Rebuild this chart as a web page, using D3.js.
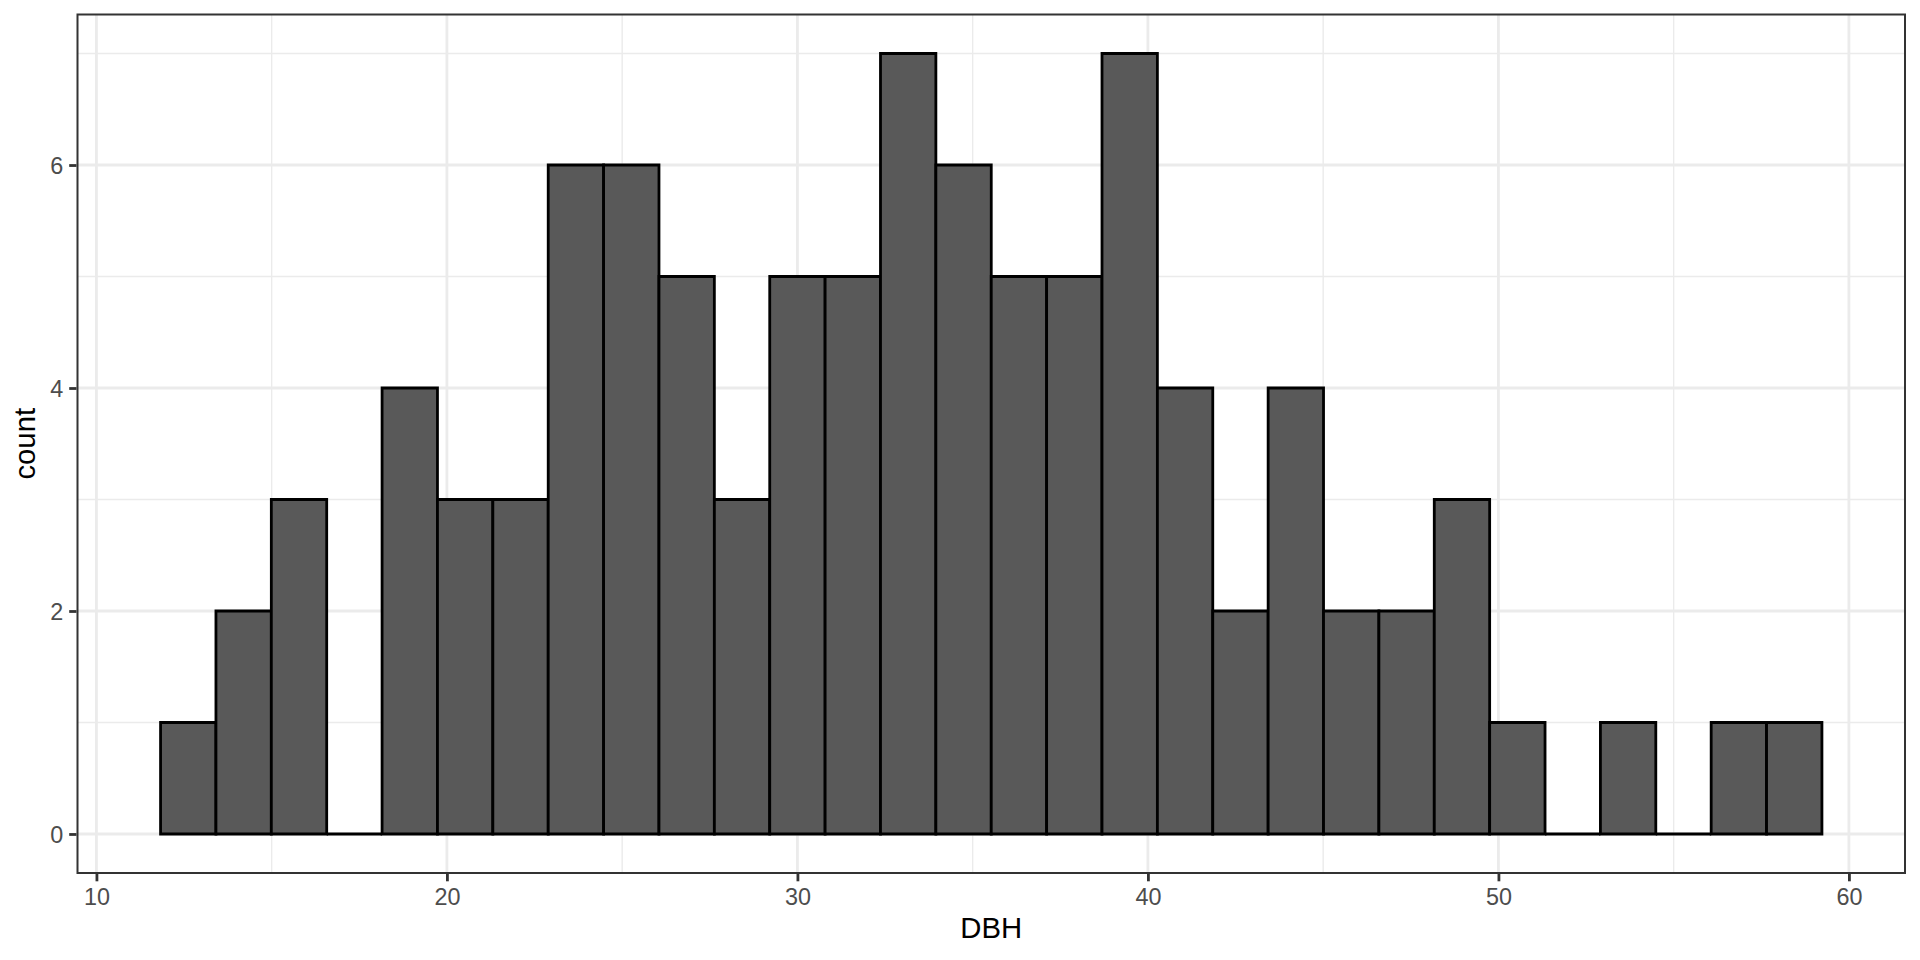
<!DOCTYPE html>
<html>
<head>
<meta charset="utf-8">
<script src="https://d3js.org/d3.v7.min.js"></script>
<style>
  html, body { margin: 0; padding: 0; background: #fff; }
  svg { display: block; font-family: "Liberation Sans", Arial, Helvetica, sans-serif; }
</style>
</head>
<body>
<svg id="chart" width="1920" height="960"></svg>
<script>
// Histogram bins (left edges), width and counts
const binLeft = [11.83, 13.41, 14.99, 16.57, 18.15, 19.73, 21.31, 22.89, 24.47, 26.05,
                 27.63, 29.21, 30.79, 32.37, 33.95, 35.53, 37.11, 38.69, 40.27, 41.85,
                 43.43, 45.01, 46.59, 48.17, 49.75, 51.33, 52.91, 54.49, 56.07, 57.65];
const binWidth = 1.58;
const counts = [1, 2, 3, 0, 4, 3, 3, 6, 6, 5,
                3, 5, 5, 7, 6, 5, 5, 7, 4, 2,
                4, 2, 2, 3, 1, 0, 1, 0, 1, 1];
const xMajor = [10, 20, 30, 40, 50, 60];
const xMinor = [15, 25, 35, 45, 55];
const yMajor = [0, 2, 4, 6];
const yMinor = [1, 3, 5, 7];
const xTitle = "DBH";
const yTitle = "count";

const svg = d3.select("#chart");
const panel = { left: 77.5, right: 1905, top: 14.5, bottom: 873 };

const xmin = d3.min(binLeft), xmax = d3.max(binLeft) + binWidth;
const xpad = (xmax - xmin) * 0.05;
const ymax = d3.max(counts);
const ypad = ymax * 0.05;

const x = d3.scaleLinear().domain([xmin - xpad, xmax + xpad]).range([panel.left, panel.right]);
const y = d3.scaleLinear().domain([-ypad, ymax + ypad]).range([panel.bottom, panel.top]);

const grid = "#EBEBEB";
svg.append("rect").attr("x", panel.left).attr("y", panel.top)
  .attr("width", panel.right - panel.left).attr("height", panel.bottom - panel.top)
  .attr("fill", "#fff");

const g = svg.append("g");
g.selectAll(".xmin").data(xMinor).enter().append("line")
  .attr("x1", d => x(d)).attr("x2", d => x(d)).attr("y1", panel.top).attr("y2", panel.bottom)
  .attr("stroke", grid).attr("stroke-width", 1.4);
g.selectAll(".ymin").data(yMinor).enter().append("line")
  .attr("y1", d => y(d)).attr("y2", d => y(d)).attr("x1", panel.left).attr("x2", panel.right)
  .attr("stroke", grid).attr("stroke-width", 1.4);
g.selectAll(".xmaj").data(xMajor).enter().append("line")
  .attr("x1", d => x(d)).attr("x2", d => x(d)).attr("y1", panel.top).attr("y2", panel.bottom)
  .attr("stroke", grid).attr("stroke-width", 2.8);
g.selectAll(".ymaj").data(yMajor).enter().append("line")
  .attr("y1", d => y(d)).attr("y2", d => y(d)).attr("x1", panel.left).attr("x2", panel.right)
  .attr("stroke", grid).attr("stroke-width", 2.8);

// bars as closed paths (so zero-count bins still draw their outline)
svg.append("g").selectAll("path").data(binLeft).enter().append("path")
  .attr("d", (d, i) => {
    const x0 = x(d), x1 = x(d + binWidth), y0 = y(0), y1 = y(counts[i]);
    return `M${x0},${y0}L${x0},${y1}L${x1},${y1}L${x1},${y0}Z`;
  })
  .attr("fill", "#595959")
  .attr("stroke", "#000")
  .attr("stroke-width", 2.8)
  .attr("stroke-linejoin", "miter");

svg.append("rect").attr("x", panel.left).attr("y", panel.top)
  .attr("width", panel.right - panel.left).attr("height", panel.bottom - panel.top)
  .attr("fill", "none").attr("stroke", "#333333").attr("stroke-width", 2);

const tickLen = 7.3, tickPad = 5.9;
const xAxis = d3.axisBottom(x).tickValues(xMajor).tickSize(tickLen).tickPadding(tickPad).tickFormat(d3.format("d"));
const yAxis = d3.axisLeft(y).tickValues(yMajor).tickSize(tickLen).tickPadding(tickPad).tickFormat(d3.format("d"));

const gx = svg.append("g").attr("transform", `translate(0,${panel.bottom + 1})`).call(xAxis);
const gy = svg.append("g").attr("transform", `translate(${panel.left - 1},0)`).call(yAxis);
[gx, gy].forEach(a => {
  a.select(".domain").remove();
  a.selectAll(".tick line").attr("stroke", "#333333").attr("stroke-width", 2.8);
  a.selectAll(".tick text").attr("fill", "#4D4D4D").style("font-size", "23.4px")
    .style("font-family", '"Liberation Sans", Arial, sans-serif');
});
gx.selectAll(".tick text").attr("dy", "0.75em");
gy.selectAll(".tick text").attr("dy", "0.35em");

svg.append("text").attr("x", (panel.left + panel.right) / 2).attr("y", 938)
  .attr("text-anchor", "middle").attr("fill", "#000").style("font-size", "29.3px")
  .text(xTitle);
svg.append("text").attr("transform", `translate(35,${(panel.top + panel.bottom) / 2}) rotate(-90)`)
  .attr("text-anchor", "middle").attr("fill", "#000").style("font-size", "29.3px")
  .text(yTitle);
</script>
</body>
</html>
